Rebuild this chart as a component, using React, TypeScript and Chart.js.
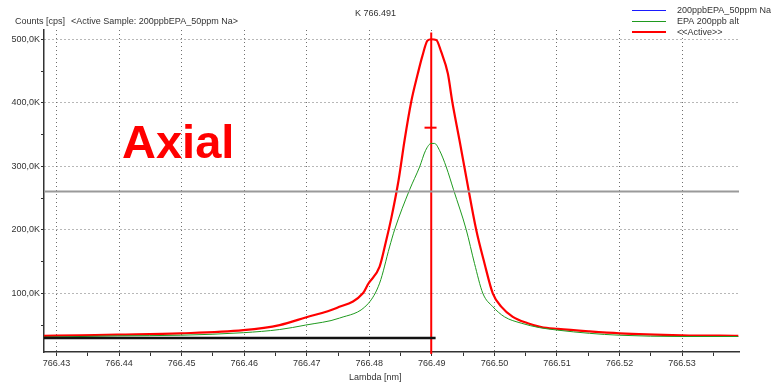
import React, { useEffect, useRef } from "react";
import { Chart, registerables } from "chart.js";

Chart.register(...registerables);

// Wavelength (nm) and counts (in thousands of cps)
const activeLambda = [
  766.42797, 766.43372, 766.43979, 766.44986, 766.45987, 766.46567, 766.46982, 766.47478,
  766.47898, 766.47984, 766.48165, 766.48272, 766.48351, 766.48468, 766.48564, 766.48671,
  766.48776, 766.48847, 766.48931, 766.4899, 766.4907, 766.4915, 766.49256, 766.49326,
  766.49442, 766.49559, 766.49709, 766.49842, 766.49974, 766.50109, 766.50294, 766.50533,
  766.50748, 766.51013, 766.51519, 766.51998, 766.53, 766.53899,
];
const activeCounts = [
  33, 34, 35, 37, 42, 50, 62, 77,
  100, 115, 142, 184, 218, 278, 341, 402,
  446, 473, 498, 500, 499, 480, 446, 402,
  341, 278, 200, 147, 100, 79, 63, 53,
  47, 44, 40, 37, 34, 33,
];

const altLambda = [
  766.42797, 766.43979, 766.44986, 766.45987, 766.46567, 766.46982, 766.47524, 766.47984,
  766.48165, 766.48324, 766.48404, 766.48644, 766.48804, 766.489, 766.4899, 766.49043,
  766.49123, 766.4923, 766.49347, 766.4955, 766.49682, 766.49815, 766.49974, 766.50161,
  766.50428, 766.5072, 766.51013, 766.51519, 766.51998, 766.53, 766.53899,
];
const altCounts = [
  31, 33, 34, 38, 43, 50, 61, 84,
  116, 173, 200, 263, 299, 325, 336, 336,
  325, 299, 263, 200, 147, 100, 79, 63,
  53, 46, 42, 37, 34, 32, 32,
];

const sampleLambda: number[] = [];
const sampleCounts: number[] = [];

const lambdaMin = 766.428;
const lambdaMax = 766.5391;
const countsMin = 7.6;
const countsMax = 514.6;

const peakLambda = 766.4899;
const peakMarkLambda = [766.48883, 766.49075];
const peakMarkCounts = 360.8;
const thresholdCounts = 260.5;
const baselineLambda = [766.428, 766.4906];
const baselineCounts = 29.6;

const xTickValues: number[] = [];
for (let i = 0; i <= 21; i++) xTickValues.push(Number((766.43 + i * 0.005).toFixed(3)));
const yTickValues = [50, 100, 150, 200, 250, 300, 350, 400, 450, 500];

const legendLabels = ["200ppbEPA_50ppm Na", "EPA 200ppb alt", "<<Active>>"];
const legendColors = ["#1a1aff", "#1f9a1f", "#ff0000"];

const titleText = "K 766.491";
const yTitleText = "Counts [cps]";
const sampleText = "<Active Sample: 200ppbEPA_50ppm Na>";
const xTitleText = "Lambda [nm]";
const bigLabel = "Axial";

const FONT = "'Liberation Sans', Arial, sans-serif";

const pts = (xs: number[], ys: number[]) => xs.map((x, i) => ({ x, y: ys[i] }));

const textPlugin = {
  id: "texts",
  afterDraw(chart: any) {
    const ctx = chart.ctx;
    ctx.save();
    ctx.fillStyle = "#333";
    ctx.font = `9px ${FONT}`;
    ctx.textBaseline = "middle";
    ctx.textAlign = "left";
    ctx.fillText(titleText, 355, 14);
    ctx.fillText(yTitleText, 15, 22);
    ctx.fillText(sampleText, 71, 22);
    ctx.fillText(xTitleText, 349, 378);
    const rows = [10.5, 21.5, 32.5];
    legendLabels.forEach((lab, i) => {
      ctx.strokeStyle = legendColors[i];
      ctx.lineWidth = i === 2 ? 2 : 1;
      ctx.beginPath();
      ctx.moveTo(632, i === 2 ? rows[i] - 0.5 : rows[i]);
      ctx.lineTo(666, i === 2 ? rows[i] - 0.5 : rows[i]);
      ctx.stroke();
      ctx.fillStyle = "#333";
      ctx.fillText(lab, 677, rows[i]);
    });
    ctx.fillStyle = "#ff0000";
    ctx.font = `bold 47px ${FONT}`;
    ctx.textBaseline = "alphabetic";
    ctx.fillText(bigLabel, 122, 158);
    ctx.restore();
  },
};

export default function App() {
  const ref = useRef<HTMLCanvasElement | null>(null);
  useEffect(() => {
    if (!ref.current) return;
    Chart.defaults.font.family = FONT;
    Chart.defaults.font.size = 9;
    Chart.defaults.color = "#333";
    const chart = new Chart(ref.current, {
      type: "scatter",
      data: {
        datasets: [
          {
            label: "threshold",
            data: pts([lambdaMin, lambdaMax], [thresholdCounts, thresholdCounts]),
            showLine: true,
            borderColor: "#9a9a9a",
            borderWidth: 2,
            pointRadius: 0,
          },
          {
            label: "baseline",
            data: pts(baselineLambda, [baselineCounts, baselineCounts]),
            showLine: true,
            borderColor: "#111",
            borderWidth: 2.5,
            pointRadius: 0,
          },
          {
            label: legendLabels[1],
            data: pts(altLambda, altCounts),
            showLine: true,
            borderColor: legendColors[1],
            borderWidth: 1,
            pointRadius: 0,
            cubicInterpolationMode: "monotone",
          },
          {
            label: legendLabels[0],
            data: pts(sampleLambda, sampleCounts),
            showLine: true,
            borderColor: legendColors[0],
            borderWidth: 1,
            pointRadius: 0,
          },
          {
            label: legendLabels[2],
            data: pts(activeLambda, activeCounts),
            showLine: true,
            borderColor: legendColors[2],
            borderWidth: 2.2,
            pointRadius: 0,
            cubicInterpolationMode: "monotone",
          },
          {
            label: "peak",
            data: pts([peakLambda, peakLambda], [countsMin - 3, countsMax - 4]),
            showLine: true,
            borderColor: "#ff0000",
            borderWidth: 2,
            pointRadius: 0,
            clip: false as any,
          },
          {
            label: "peakMark",
            data: pts(peakMarkLambda, [peakMarkCounts, peakMarkCounts]),
            showLine: true,
            borderColor: "#ff0000",
            borderWidth: 2,
            pointRadius: 0,
          },
        ],
      },
      options: {
        responsive: false,
        animation: false,
        layout: { padding: { top: 30, right: 34, left: 0, bottom: 0 } },
        plugins: { legend: { display: false }, tooltip: { enabled: false }, title: { display: false } },
        scales: {
          x: {
            type: "linear",
            min: lambdaMin,
            max: lambdaMax,
            afterBuildTicks: (s: any) => {
              s.ticks = xTickValues.map((v) => ({ value: v }));
            },
            afterFit: (s: any) => {
              s.height = 32;
            },
            ticks: {
              autoSkip: false,
              maxRotation: 0,
              padding: 2,
              color: "#333",
              font: { size: 9 },
              callback: (v: any, i: number) => (i % 2 === 0 ? Number(v).toFixed(2) : ""),
            },
            grid: {
              color: (c: any) => (c.index % 2 === 0 ? "#707070" : "rgba(0,0,0,0)"),
              tickColor: "#333",
              tickLength: 4,
              lineWidth: 1,
            },
            border: { display: true, color: "#333", width: 1.5, dash: [1, 3] },
          },
          y: {
            type: "linear",
            min: countsMin,
            max: countsMax,
            afterBuildTicks: (s: any) => {
              s.ticks = yTickValues.map((v) => ({ value: v }));
            },
            afterFit: (s: any) => {
              s.width = 44;
            },
            ticks: {
              autoSkip: false,
              padding: 1,
              color: "#333",
              font: { size: 9 },
              callback: (v: any) =>
                Number(v) % 100 === 0 ? Number(v).toFixed(1).replace(".", ",") + "K" : "",
            },
            grid: {
              color: (c: any) => (c.tick && c.tick.value % 100 === 0 ? "#707070" : "rgba(0,0,0,0)"),
              tickColor: "#333",
              tickLength: 3,
              lineWidth: 1,
            },
            border: { display: true, color: "#333", width: 1.5, dash: [1, 3] },
          },
        },
      },
      plugins: [textPlugin],
    } as any);
    return () => chart.destroy();
  }, []);
  return (
    <div style={{ position: "fixed", left: 0, top: 0, width: 773, height: 384, background: "#fff" }}>
      <canvas ref={ref} width={773} height={384} style={{ display: "block" }} />
    </div>
  );
}
